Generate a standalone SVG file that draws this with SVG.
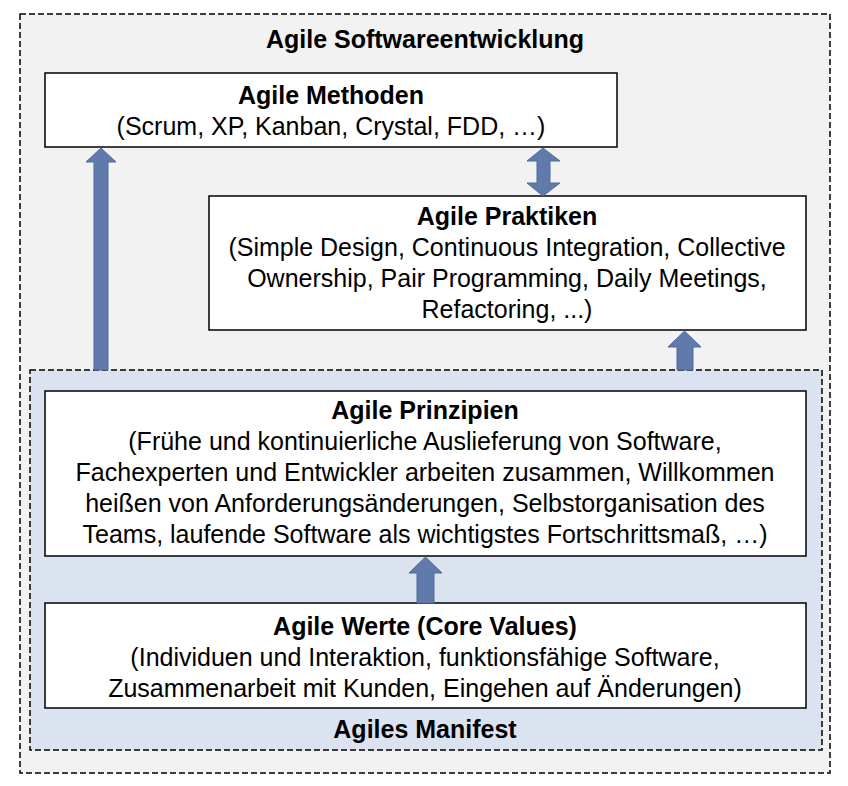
<svg xmlns="http://www.w3.org/2000/svg" width="848" height="786" viewBox="0 0 848 786">
<style>
.t{font-family:"Liberation Sans",Arial,sans-serif;font-size:25px;fill:#000;text-anchor:middle}
.b{font-weight:bold}
.box{fill:#fff;stroke:#000;stroke-width:1.5}
.arr{fill:#5f7aab;stroke:#52699a;stroke-width:1}
</style>
<rect width="848" height="786" fill="#fff"/>
<g id="softwareentwicklung">
<rect x="20" y="14" width="810" height="759" fill="#f2f2f2" stroke="#000" stroke-width="1.5" stroke-dasharray="6,3"/>
<text class="t b" x="425" y="48">Agile Softwareentwicklung</text>
</g>
<g id="manifest">
<rect x="30" y="370" width="792" height="380" fill="#dce3f0" stroke="#000" stroke-width="1.5" stroke-dasharray="6,3"/>
<text class="t b" x="425" y="738">Agiles Manifest</text>
</g>
<g id="methoden">
<rect class="box" x="45" y="73" width="572" height="74"/>
<text class="t b" x="331" y="104">Agile Methoden</text>
<text class="t" x="331" y="135">(Scrum, XP, Kanban, Crystal, FDD, …)</text>
</g>
<g id="praktiken">
<rect class="box" x="209" y="196" width="597" height="134"/>
<text class="t b" x="507" y="225">Agile Praktiken</text>
<text class="t" x="507" y="256">(Simple Design, Continuous Integration, Collective</text>
<text class="t" x="507" y="287">Ownership, Pair Programming, Daily Meetings,</text>
<text class="t" x="507" y="318">Refactoring, ...)</text>
</g>
<g id="prinzipien">
<rect class="box" x="45" y="391" width="761" height="165"/>
<text class="t b" x="425" y="419">Agile Prinzipien</text>
<text class="t" x="425" y="450">(Frühe und kontinuierliche Auslieferung von Software,</text>
<text class="t" x="425" y="481">Fachexperten und Entwickler arbeiten zusammen, Willkommen</text>
<text class="t" x="425" y="512">heißen von Anforderungsänderungen, Selbstorganisation des</text>
<text class="t" x="425" y="543">Teams, laufende Software als wichtigstes Fortschrittsmaß, …)</text>
</g>
<g id="werte">
<rect class="box" x="45" y="603" width="761" height="105"/>
<text class="t b" x="425" y="635">Agile Werte (Core Values)</text>
<text class="t" x="425" y="666">(Individuen und Interaktion, funktionsfähige Software,</text>
<text class="t" x="425" y="697">Zusammenarbeit mit Kunden, Eingehen auf Änderungen)</text>
</g>
<g id="connectors">
<polygon class="arr" points="94,370 94,162 86,162 101,148 116,162 108,162 108,370"/>
<polygon class="arr" points="543,148 560,161 550,161 550,183 560,183 543,196 527,183 537,183 537,161 527,161"/>
<polygon class="arr" points="677,370 677,347 668,347 684.5,331 701,347 693,347 693,370"/>
<polygon class="arr" points="417,603 417,573 409,573 425.5,557 442,573 434,573 434,603"/>
</g>
</svg>
